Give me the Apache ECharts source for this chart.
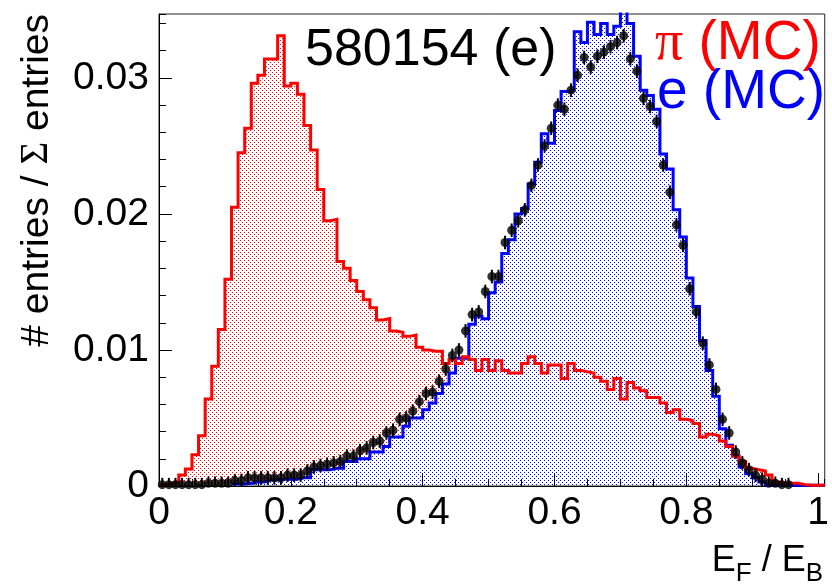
<!DOCTYPE html>
<html>
<head>
<meta charset="utf-8">
<script src="https://cdn.jsdelivr.net/npm/echarts@6/dist/echarts.min.js"></script>
<style>
  html, body { margin: 0; padding: 0; background: #ffffff; }
  #chart { width: 832px; height: 584px; }
</style>
</head>
<body>
<div id="chart"></div>
<script>
// Histogram binning of E_F / E_B: 101 bins of width 0.01 from 0 to 1.01
const BIN_WIDTH = 0.01;
const X_MAX = 1.01;
const Y_MAX = 0.0347;

// Tick values carrying labels
const X_TICKS = [0, 0.2, 0.4, 0.6, 0.8, 1];
const Y_TICKS = [0, 0.01, 0.02, 0.03];

// pi (MC): normalised bin contents, bin k covers [k*0.01, (k+1)*0.01)
const piMC = [
  0.0001, 0.0002, 0.0003, 0.0008, 0.00125, 0.0023, 0.0037, 0.0064, 0.0088, 0.0115,
  0.0152, 0.0205, 0.0245, 0.0263, 0.0296, 0.0302, 0.0314, 0.0314, 0.0331, 0.0294,
  0.0296, 0.0288, 0.0265, 0.0247, 0.0218, 0.0195, 0.0196, 0.0165, 0.0160, 0.0151,
  0.0143, 0.0137, 0.0131, 0.0122, 0.0123, 0.0114, 0.0113, 0.0110, 0.0111, 0.0102,
  0.0100, 0.0099, 0.0099, 0.0090, 0.0093, 0.0090, 0.0095, 0.0093, 0.0085, 0.0093,
  0.0085, 0.0092, 0.0085, 0.0083, 0.0083, 0.0090, 0.0095, 0.0090, 0.0083, 0.0089,
  0.0089, 0.0079, 0.0090, 0.0085, 0.0084, 0.0083, 0.0080, 0.0077, 0.0071, 0.0079,
  0.0064, 0.0076, 0.0072, 0.0070, 0.0065, 0.0065, 0.0061, 0.0054, 0.0056, 0.0049,
  0.0048, 0.0046, 0.0036, 0.0038, 0.0037, 0.0033, 0.0029, 0.0022, 0.0018, 0.0013,
  0.0012, 0.0011, 0.0008, 0.0003, 0.0002, 0.0002, 0.0002, 0.0001, 0.00005, 0.00005,
  0.00005
];

// e (MC): normalised bin contents (empty bins below 0.11 are not drawn)
const eMC = [
  null, null, null, null, null, null, null, null, null, null,
  null, 0.00015, 0.00015, 0.0002, 0.0003, 0.0003, 0.00044, 0.00044, 0.0005, 0.0005,
  0.0005, 0.0006, 0.0006, 0.0012, 0.0012, 0.0012, 0.0013, 0.0013, 0.0018, 0.0018,
  0.0020, 0.0020, 0.0025, 0.0025, 0.0029, 0.0036, 0.0036, 0.0044, 0.0050, 0.0050,
  0.0056, 0.0061, 0.0068, 0.0075, 0.0083, 0.0094, 0.0094, 0.0119, 0.0125, 0.0123,
  0.0142, 0.0150, 0.0171, 0.0181, 0.0200, 0.0204, 0.0222, 0.0238, 0.0259, 0.0252,
  0.0276, 0.0290, 0.0291, 0.0334, 0.0326, 0.0341, 0.0332, 0.0340, 0.0332, 0.0338,
  0.0352, 0.0340, 0.0316, 0.0291, 0.0287, 0.0277, 0.0244, 0.0233, 0.0203, 0.0183,
  0.0153, 0.0132, 0.0107, 0.0085, 0.0066, 0.0042, 0.0030, 0.0022, 0.0014, 0.0009,
  0.0006, 0.0003, 0.00005, 0.00005, 0.00005, 0.00005, 0.00005, 0.00005, 0.00005, 0.00005,
  0.00005
];

// Run 580154 (e): measured normalised contents at the bin centres
const run580154 = [
  0.0001, 0.0001, 0.0001, 0.0001, 0.0001, 0.0001, 0.0001, 0.0002, 0.0002, 0.0002,
  0.0002, 0.0004, 0.0004, 0.0006, 0.0006, 0.0006, 0.0006, 0.0006, 0.0006, 0.0008,
  0.0008, 0.0008, 0.0011, 0.0014, 0.0015, 0.0016, 0.0017, 0.0018, 0.0022, 0.0022,
  0.0026, 0.0028, 0.0032, 0.0033, 0.0039, 0.0041, 0.0049, 0.0050, 0.0055, 0.0062,
  0.0068, 0.0069, 0.0077, 0.0086, 0.0096, 0.0100, 0.0114, 0.0126, 0.0128, 0.0143,
  0.0154, 0.0154, 0.0179, 0.0188, 0.0195, 0.0203, 0.0221, 0.0236, 0.0250, 0.0263,
  0.0280, 0.0277, 0.0291, 0.0302, 0.0315, 0.0308, 0.0316, 0.0319, 0.0323, 0.0326,
  0.0331, 0.0314, 0.0305, 0.0285, 0.0279, 0.0268, 0.0236, 0.0216, 0.0192, 0.0177,
  0.0145, 0.0128, 0.0105, 0.0089, 0.0071, 0.0049, 0.0039, 0.0025, 0.0017, 0.0012,
  0.0008, 0.0005, 0.0002, 0.0002, 0.0001, 0.0001
];
// Statistical uncertainty drawn on each measured point
const RUN_ERR = 0.0005;

const FONT = '"Liberation Sans", Arial, Helvetica, sans-serif';
const SERIF = '"Liberation Serif", "Times New Roman", serif';

// Step outline points: one point per left bin edge plus the closing right edge
function stepPoints(values) {
  const pts = [];
  let last = null;
  values.forEach((v, k) => {
    if (v === null) return;
    pts.push([k * BIN_WIDTH, v]);
    last = [(k + 1) * BIN_WIDTH, v];
  });
  if (last) pts.push(last);
  return pts;
}

// Fine dotted fill; both histograms share the same dot lattice, so the
// later fill overwrites the earlier one where they overlap
function dotPattern(color) {
  const c = document.createElement('canvas');
  c.width = 4; c.height = 4;
  const g = c.getContext('2d');
  g.fillStyle = color;
  g.fillRect(0, 0, 1, 1);
  g.fillRect(2, 2, 1, 1);
  return { image: c, repeat: 'repeat' };
}

const piSteps = stepPoints(piMC);
const eSteps = stepPoints(eMC);
const runPoints = run580154.map((v, k) => [(k + 0.5) * BIN_WIDTH, v, RUN_ERR]);

const chart = echarts.init(document.getElementById('chart'), null, { renderer: 'canvas' });

const tickStyle = { color: '#000', width: 1 };

chart.setOption({
  animation: false,
  backgroundColor: '#ffffff',
  grid: {
    left: 159, right: 6, top: 14, bottom: 98,
    show: true, borderColor: '#222', borderWidth: 1, backgroundColor: 'transparent'
  },
  xAxis: [
    {
      type: 'value', min: 0, max: X_MAX, position: 'bottom',
      axisLine: { show: true, onZero: false, lineStyle: tickStyle },
      axisTick: { show: true, inside: true, length: 13, customValues: X_TICKS, lineStyle: tickStyle },
      axisLabel: {
        show: true, customValues: X_TICKS, margin: 8,
        fontSize: 39, fontFamily: FONT, color: '#000'
      },
      splitLine: { show: false }
    },
    {
      type: 'value', min: 0, max: X_MAX, interval: 0.05, position: 'bottom',
      axisLine: { show: false },
      axisTick: { show: true, inside: true, length: 7, lineStyle: tickStyle },
      axisLabel: { show: false },
      splitLine: { show: false }
    }
  ],
  yAxis: [
    {
      type: 'value', min: 0, max: Y_MAX, position: 'left',
      axisLine: { show: true, onZero: false, lineStyle: tickStyle },
      axisTick: { show: true, inside: true, length: 13, customValues: Y_TICKS, lineStyle: tickStyle },
      axisLabel: {
        show: true, customValues: Y_TICKS, margin: 10,
        fontSize: 39, fontFamily: FONT, color: '#000'
      },
      splitLine: { show: false }
    },
    {
      type: 'value', min: 0, max: Y_MAX, interval: 0.002, position: 'left',
      axisLine: { show: false },
      axisTick: { show: true, inside: true, length: 7, lineStyle: tickStyle },
      axisLabel: { show: false },
      splitLine: { show: false }
    }
  ],
  series: [
    {
      name: 'pi (MC) fill', type: 'line', step: 'end', data: piSteps,
      symbol: 'none', silent: true, z: 2,
      lineStyle: { width: 0, opacity: 0 },
      areaStyle: { color: dotPattern('#ff0000'), opacity: 1, origin: 'start' }
    },
    {
      name: 'e (MC) fill', type: 'line', step: 'end', data: eSteps,
      symbol: 'none', silent: true, z: 2,
      lineStyle: { width: 0, opacity: 0 },
      areaStyle: { color: dotPattern('#0000ff'), opacity: 1, origin: 'start' }
    },
    {
      name: 'e (MC)', type: 'line', step: 'end', data: eSteps,
      symbol: 'none', silent: true, z: 3,
      lineStyle: { color: '#0000ff', width: 3, join: 'miter' }
    },
    {
      name: 'pi (MC)', type: 'line', step: 'end', data: piSteps,
      symbol: 'none', silent: true, z: 3,
      lineStyle: { color: '#ff0000', width: 3, join: 'miter' }
    },
    {
      name: '580154 errors', type: 'custom', data: runPoints, z: 4, clip: true,
      renderItem: function (params, api) {
        const x = api.value(0), y = api.value(1), e = api.value(2);
        const top = api.coord([x, y + e]);
        const bot = api.coord([x, Math.max(0, y - e)]);
        return {
          type: 'line',
          shape: { x1: top[0], y1: top[1], x2: bot[0], y2: bot[1] },
          style: { stroke: '#000', lineWidth: 2 }
        };
      }
    },
    {
      name: '580154 (e)', type: 'scatter', data: runPoints, z: 5,
      symbol: 'circle', symbolSize: 9,
      itemStyle: { color: '#000' }
    }
  ],
  graphic: [
    {
      type: 'text', x: 305, y: 51, z: 10,
      style: {
        text: '580154 (e)', font: '52px ' + FONT, fill: '#000',
        align: 'left', verticalAlign: 'middle', textAlign: 'left', textVerticalAlign: 'middle'
      }
    },
    {
      type: 'text', x: 655, y: 44, z: 10,
      style: {
        text: '{g|π}{a| (MC)}', fill: '#ff0000',
        align: 'left', verticalAlign: 'middle', textAlign: 'left', textVerticalAlign: 'middle',
        rich: {
          g: { font: '56px ' + SERIF, fill: '#ff0000' },
          a: { font: '55px ' + FONT, fill: '#ff0000' }
        }
      }
    },
    {
      type: 'text', x: 657, y: 93, z: 10,
      style: {
        text: 'e (MC)', font: '55px ' + FONT, fill: '#0000ff',
        align: 'left', verticalAlign: 'middle', textAlign: 'left', textVerticalAlign: 'middle'
      }
    },
    {
      type: 'text', x: 37, y: 14, rotation: Math.PI / 2, z: 10,
      style: {
        text: '{a|# entries / }{g|Σ}{a| entries}',
        align: 'right', verticalAlign: 'middle', textAlign: 'right', textVerticalAlign: 'middle',
        rich: {
          a: { font: '39px ' + FONT, fill: '#000' },
          g: { font: '39px ' + SERIF, fill: '#000' }
        }
      }
    },
    {
      type: 'text', x: 823, y: 565, z: 10,
      style: {
        text: '{a|E}{s|F}{a| / E}{s|B}',
        align: 'right', verticalAlign: 'middle', textAlign: 'right', textVerticalAlign: 'middle',
        rich: {
          a: { font: '36px ' + FONT, fill: '#000', lineHeight: 44, verticalAlign: 'top' },
          s: { font: '26px ' + FONT, fill: '#000', lineHeight: 26, verticalAlign: 'bottom' }
        }
      }
    }
  ]
});
</script>
</body>
</html>
